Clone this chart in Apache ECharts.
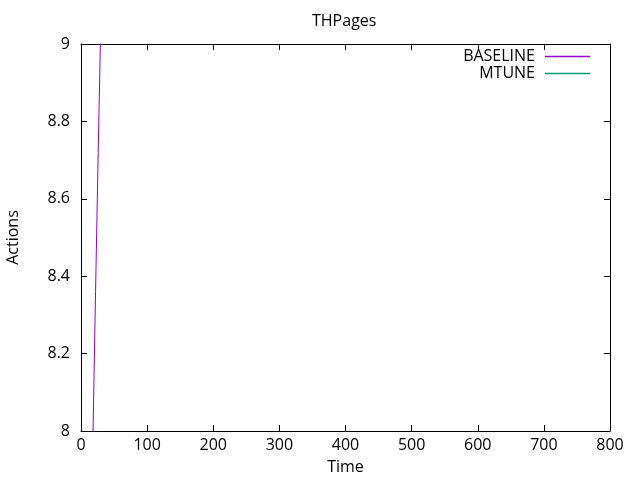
<!DOCTYPE html>
<html><head><meta charset="utf-8">
<script src="https://cdn.jsdelivr.net/npm/echarts@6/dist/echarts.min.js"></script>
<style>html,body{margin:0;padding:0;background:#fff}#c{width:640px;height:480px}</style>
</head><body><div id="c"></div>
<script>
var xTicks = [0, 100, 200, 300, 400, 500, 600, 700, 800];
var yTicks = [8, 8.2, 8.4, 8.6, 8.8, 9];
var baselineTime = [14, 18, 22, 26, 30, 34];
var baselineActions = [7.6, 7.98, 8.36, 8.72, 9.06, 9.4];
var mtuneTime = [];
var mtuneActions = [];

function pairs(xs, ys){ return xs.map(function(x,i){ return [x, ys[i]]; }); }

var font = '"Open Sans", sans-serif';
var chart = echarts.init(document.getElementById('c'), null, {renderer:'canvas'});
var axisCommon = {
  axisLine:{show:true, onZero:false, lineStyle:{color:'#000', width:1}},
  axisTick:{show:true, inside:true, length:6, lineStyle:{color:'#000'}},
  splitLine:{show:false}
};
chart.setOption({
  animation:false,
  backgroundColor:'#fff',
  title:{text:'THPages', left:312, top:13, padding:0, textStyle:{fontFamily:font, fontSize:16, fontWeight:'normal', color:'#000'}},
  grid:{left:81, right:30, top:44, bottom:49, containLabel:false, outerBoundsMode:'none'},
  legend:{right:50, top:48, padding:0, orient:'vertical', align:'right', itemWidth:45, itemHeight:1.5, itemGap:0,
    icon:'rect', textStyle:{fontFamily:font, fontSize:16, color:'#000', lineHeight:17, padding:[0,5,0,0]},
    data:[{name:'BASELINE', itemStyle:{color:'#9400d3'}}, {name:'MTUNE', itemStyle:{color:'#009e73'}}]},
  xAxis:[
    Object.assign({type:'value', min:0, max:800, interval:100, name:'Time', nameLocation:'middle', nameGap:28,
      nameTextStyle:{fontFamily:font, fontSize:16, color:'#000'},
      axisLabel:{fontFamily:font, fontSize:16, color:'#000', margin:6}}, axisCommon),
    Object.assign({type:'value', min:0, max:800, interval:100, position:'top', axisLabel:{show:false}}, axisCommon)
  ],
  yAxis:[
    Object.assign({type:'value', min:8, max:9, interval:0.2, name:'Actions', nameLocation:'middle', nameGap:60,
      nameTextStyle:{fontFamily:font, fontSize:16, color:'#000'},
      axisLabel:{fontFamily:font, fontSize:16, color:'#000', margin:11,
        formatter:function(v){ return String(Math.round(v*10)/10); }}}, axisCommon),
    Object.assign({type:'value', min:8, max:9, interval:0.2, position:'right', axisLabel:{show:false}}, axisCommon)
  ],
  series:[
    {name:'BASELINE', type:'line', data:pairs(baselineTime, baselineActions), showSymbol:false, symbol:'none',
      clip:true, itemStyle:{color:'#9400d3'}, lineStyle:{width:1, color:'#9400d3'}},
    {name:'MTUNE', type:'line', data:pairs(mtuneTime, mtuneActions), showSymbol:false, symbol:'none',
      clip:true, itemStyle:{color:'#009e73'}, lineStyle:{width:1, color:'#009e73'}}
  ]
});
</script></body></html>
